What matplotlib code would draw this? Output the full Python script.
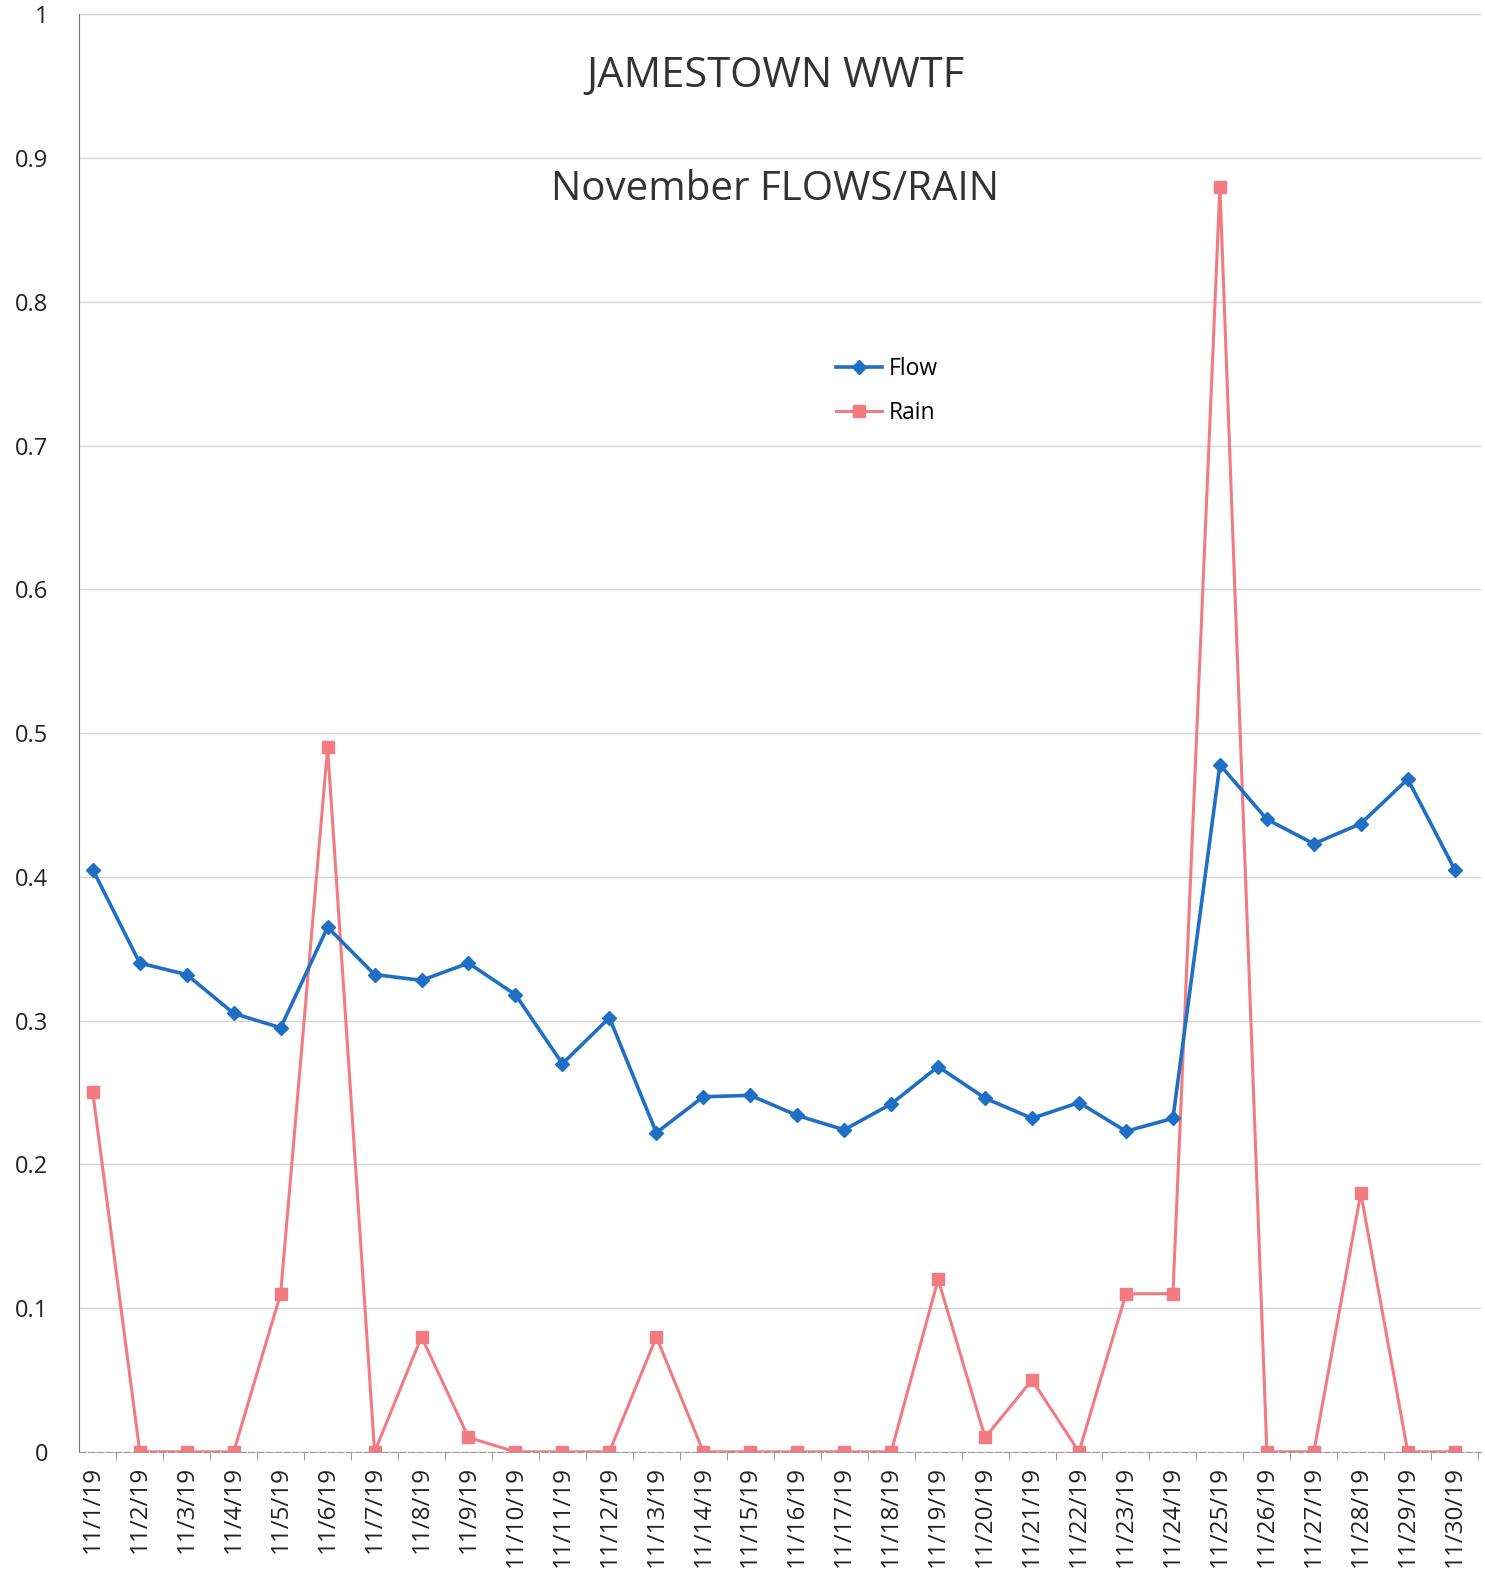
import matplotlib.pyplot as plt

dates = ['11/%d/19' % d for d in range(1, 31)]

flow = [0.405, 0.340, 0.332, 0.305, 0.295, 0.365, 0.332, 0.328, 0.340, 0.318,
        0.270, 0.302, 0.222, 0.247, 0.248, 0.234, 0.224, 0.242, 0.268, 0.246,
        0.232, 0.243, 0.223, 0.232, 0.478, 0.440, 0.423, 0.437, 0.468, 0.405]

rain = [0.25, 0.0, 0.0, 0.0, 0.11, 0.49, 0.0, 0.08, 0.01, 0.0,
        0.0, 0.0, 0.08, 0.0, 0.0, 0.0, 0.0, 0.0, 0.12, 0.01,
        0.05, 0.0, 0.11, 0.11, 0.88, 0.0, 0.0, 0.18, 0.0, 0.0]

plt.rcParams['font.family'] = ['Open Sans', 'DejaVu Sans']

fig = plt.figure(figsize=(14.85, 15.85), dpi=100)
ax = fig.add_axes([0.053, 0.084, 0.944, 0.907])

x = range(len(dates))
ax.plot(x, flow, color='#1f6fc5', lw=2.6, marker='D', ms=7, label='Flow', zorder=3)
ax.plot(x, rain, color='#f27b82', lw=2.2, marker='s', ms=8, label='Rain', zorder=2)

ax.set_yticks([i / 10 for i in range(11)])
ax.set_yticklabels(['0', '0.1', '0.2', '0.3', '0.4', '0.5', '0.6', '0.7', '0.8', '0.9', '1'])
ax.set_xticks(list(x))
ax.set_xticklabels(dates, rotation=90)
ax.set_xticks([i + 0.5 for i in range(-1, 30)], minor=True)
# limits after the ticks, otherwise set_xticks widens them
ax.set_ylim(0, 1)
ax.set_xlim(-0.3, 29.55)
ax.tick_params(axis='x', which='major', length=0, labelsize=17.5, pad=10, colors='#222222')
ax.tick_params(axis='x', which='minor', length=6, color='#888888')
ax.tick_params(axis='y', length=0, labelsize=17, pad=22, colors='#222222')

ax.grid(axis='y', color='#d6d6d6', lw=1)
ax.set_axisbelow(True)
for s in ['top', 'right']:
    ax.spines[s].set_visible(False)
ax.spines['left'].set_color('#777777')
ax.spines['bottom'].set_color('#999999')
ax.spines['bottom'].set_linestyle((0, (6, 2)))

ax.text(0.497, 0.957, 'JAMESTOWN WWTF', transform=ax.transAxes, ha='center',
        va='center', fontsize=30, color='#333333')
ax.text(0.497, 0.878, 'November FLOWS/RAIN', transform=ax.transAxes, ha='center',
        va='center', fontsize=29, color='#333333')

ax.legend(loc='center left', bbox_to_anchor=(0.54, 0.738), frameon=False,
          fontsize=16.5, handlelength=2.0, labelspacing=0.9, handletextpad=0.3,
          borderpad=0, borderaxespad=0)

fig.savefig('out.png', dpi=100, facecolor='white')
